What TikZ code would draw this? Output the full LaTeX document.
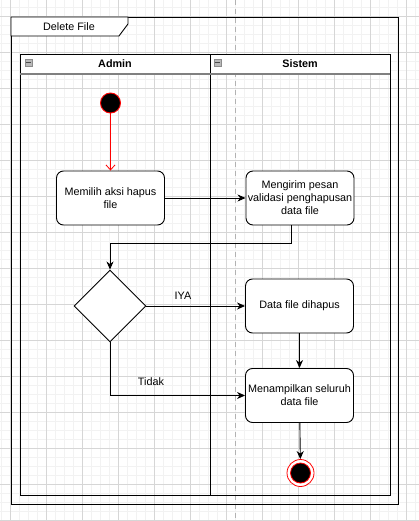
\documentclass[tikz,border=0pt]{standalone}
\usepackage{fontspec}
\setmainfont{Liberation Sans}
\usetikzlibrary{arrows.meta,shapes.geometric}
\begin{document}
\begin{tikzpicture}[x=1pt,y=-1pt,
  txt/.style={font=\fontsize{10.8}{13}\selectfont, inner sep=0pt},
  act/.style={draw, line width=0.9pt, rounded corners=7pt, fill=white, minimum width=108pt, minimum height=54pt, align=center, font=\fontsize{10.8}{13}\selectfont, inner sep=1pt},
  dec/.style={draw, line width=0.9pt, diamond, fill=white, minimum width=72pt, minimum height=72pt, inner sep=0pt},
  arr/.style={-{Stealth[length=8pt,width=7pt,inset=2.5pt]}, line width=0.9pt},
  redarr/.style={-{Straight Barb[length=5pt,width=9pt]}, line width=0.8pt, draw=red},
  hdr/.style={font=\bfseries\fontsize{10.8}{13}\selectfont, inner sep=0pt},
  minorgrid/.style={draw=black!5, line width=0.6pt},
  majorgrid/.style={draw=black!16, line width=0.7pt},
  icon/.style={fill=gray!55, draw=gray!90, line width=0.5pt},
]
\useasboundingbox (0,0) rectangle (419,521);
\fill[white] (0,0) rectangle (419,521);
% grid
\foreach \i in {-1,...,46} { \draw[minorgrid] ({10+9*\i},0) -- ({10+9*\i},521); }
\foreach \i in {-2,...,56} { \draw[minorgrid] (0,{16+9*\i}) -- (419,{16+9*\i}); }
\foreach \i in {0,...,11} { \draw[majorgrid] ({10+36*\i},0) -- ({10+36*\i},521); }
\foreach \i in {0,...,14} { \draw[majorgrid] (0,{16+36*\i}) -- (419,{16+36*\i}); }
% page break
\draw[black!30, line width=1pt, dash pattern=on 5pt off 4pt] (235,0) -- (235,521);
% frame
\draw[line width=0.9pt] (11,17) rectangle (398,504);
\draw[line width=0.9pt, fill=white] (11,17) -- (128,17) -- (128,24) -- (119,36) -- (11,36) -- cycle;
\node[txt] (title) at (69,26.5) {Delete File};
% lanes
\fill[white] (20,54) rectangle (390,74);
\draw[line width=0.9pt] (20,54) rectangle (210,495);
\draw[line width=0.9pt] (210,54) rectangle (390,495);
\draw[gray, line width=1.3pt] (20,74) -- (390,74);
\node[hdr] (adminh) at (115,64) {Admin};
\node[hdr] (sistemh) at (300,64) {Sistem};
\draw[icon] (25,59) rectangle (32,66);
\draw[black!70, line width=0.6pt] (26,62.5) -- (31,62.5);
\draw[icon] (214,59) rectangle (221,66);
\draw[black!70, line width=0.6pt] (215,62.5) -- (220,62.5);
% nodes
\node[circle, draw=red, fill=black, line width=0.9pt, minimum size=20pt, inner sep=0pt] (start) at (110.5,103) {};
\node[act] (a1) at (110.5,198) {Memilih aksi hapus\\file};
\node[act] (a2) at (300,198) {Mengirim pesan\\validasi penghapusan\\data file};
\node[dec] (d) at (110,306) {};
\node[act] (a3) at (299.5,306) {Data file dihapus};
\node[act] (a4) at (299.5,395.5) {Menampilkan seluruh\\data file};
\node[circle, draw=red, fill=white, line width=0.8pt, minimum size=27pt, inner sep=0pt] (end) at (300.5,473) {};
\node[circle, draw=red, fill=black, line width=0.8pt, minimum size=20pt, inner sep=0pt] (endin) at (300.5,473) {};
% connectors
\draw[redarr] (start) -- (a1);
\draw[arr] (a1) -- (a2);
\draw[arr] ([xshift=-9pt]a2.south) -- ++(0,18) -| (d.north);
\draw[arr] (d.east) -- (a3.west);
\node[txt] (iya) at (183,296) {IYA};
\draw[arr] (a3) -- (a4);
\draw[arr] (d.south) |- (a4.west);
\node[txt] (tidak) at (151,382) {Tidak};
\draw[arr] (a4) -- (end);
\end{tikzpicture}
\end{document}
